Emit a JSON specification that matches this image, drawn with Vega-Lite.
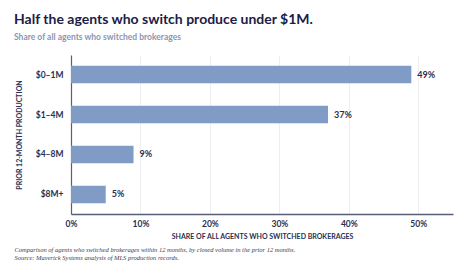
{
  "$schema": "https://vega.github.io/schema/vega-lite/v6.json",
  "width": 382,
  "height": 159,
  "autosize": {"type": "none"},
  "padding": {"left": 71, "top": 55, "right": 16, "bottom": 62},
  "background": "#ffffff",
  "title": {
    "text": "Half the agents who switch produce under $1M.",
    "subtitle": "Share of all agents who switched brokerages",
    "anchor": "start",
    "frame": "group",
    "dx": -57,
    "offset": 14,
    "font": "Lato",
    "fontSize": 14,
    "fontWeight": "bold",
    "color": "#1b2048",
    "subtitleFont": "Lato",
    "subtitleFontSize": 8.5,
    "subtitleFontWeight": "bold",
    "subtitleColor": "#8d95b3",
    "subtitlePadding": 6
  },
  "data": {
    "values": [
      {"band": "$0–1M", "share": 0.49},
      {"band": "$1–4M", "share": 0.37},
      {"band": "$4–8M", "share": 0.09},
      {"band": "$8M+", "share": 0.05}
    ]
  },
  "encoding": {
    "y": {
      "field": "band",
      "type": "nominal",
      "sort": null,
      "scale": {"paddingInner": 0.56, "paddingOuter": 0.27},
      "axis": {
        "title": "PRIOR 12-MONTH PRODUCTION",
        "titleFont": "Lato",
        "titleFontSize": 7,
        "titleFontWeight": "bold",
        "titleColor": "#2a2f52",
        "titlePadding": 13,
        "labelFont": "Lato",
        "labelFontSize": 8.5,
        "labelFontWeight": "bold",
        "labelColor": "#2a2f52",
        "labelPadding": 8,
        "ticks": false,
        "domainColor": "#5a5f78",
        "domainWidth": 1.2,
        "grid": false
      }
    }
  },
  "layer": [
    {
      "mark": {"type": "bar", "color": "#7f9bc6"},
      "encoding": {
        "x": {
          "field": "share",
          "type": "quantitative",
          "scale": {"domain": [0, 0.55], "nice": false},
          "axis": {
            "values": [0, 0.1, 0.2, 0.3, 0.4, 0.5],
            "format": ".0%",
            "labelFlush": false,
            "title": "SHARE OF ALL AGENTS WHO SWITCHED BROKERAGES",
            "titleFont": "Lato",
            "titleFontSize": 7,
            "titleFontWeight": "bold",
            "titleColor": "#2a2f52",
            "titlePadding": 5,
            "labelFont": "Lato",
            "labelFontSize": 8.5,
            "labelFontWeight": "bold",
            "labelColor": "#2a2f52",
            "labelPadding": 5,
            "ticks": false,
            "domainColor": "#5a5f78",
            "domainWidth": 1.5,
            "grid": true,
            "gridColor": "#eceef3",
            "gridWidth": 1
          }
        }
      }
    },
    {
      "mark": {"type": "text", "align": "left", "dx": 6, "font": "Lato", "fontSize": 9, "fontWeight": "bold", "color": "#2a2f52"},
      "encoding": {
        "x": {
          "field": "share",
          "type": "quantitative",
          "axis": {
            "orient": "bottom",
            "labels": false,
            "ticks": false,
            "domain": false,
            "grid": false,
            "title": ["Comparison of agents who switched brokerages within 12 months, by closed volume in the prior 12 months.", "Source: Maverick Systems analysis of MLS production records."],
            "titleFont": "Liberation Serif",
            "titleFontStyle": "italic",
            "titleFontWeight": "normal",
            "titleFontSize": 6.5,
            "titleColor": "#3a3d50",
            "titleAlign": "left",
            "titleAnchor": "start",
            "titleBaseline": "top",
            "titleLineHeight": 8,
            "titleX": -57,
            "titleY": 32
          }
        },
        "text": {"field": "share", "type": "quantitative", "format": ".0%"}
      }
    }
  ],
  "resolve": {"axis": {"x": "independent"}},
  "config": {
    "view": {"stroke": null}
  }
}
